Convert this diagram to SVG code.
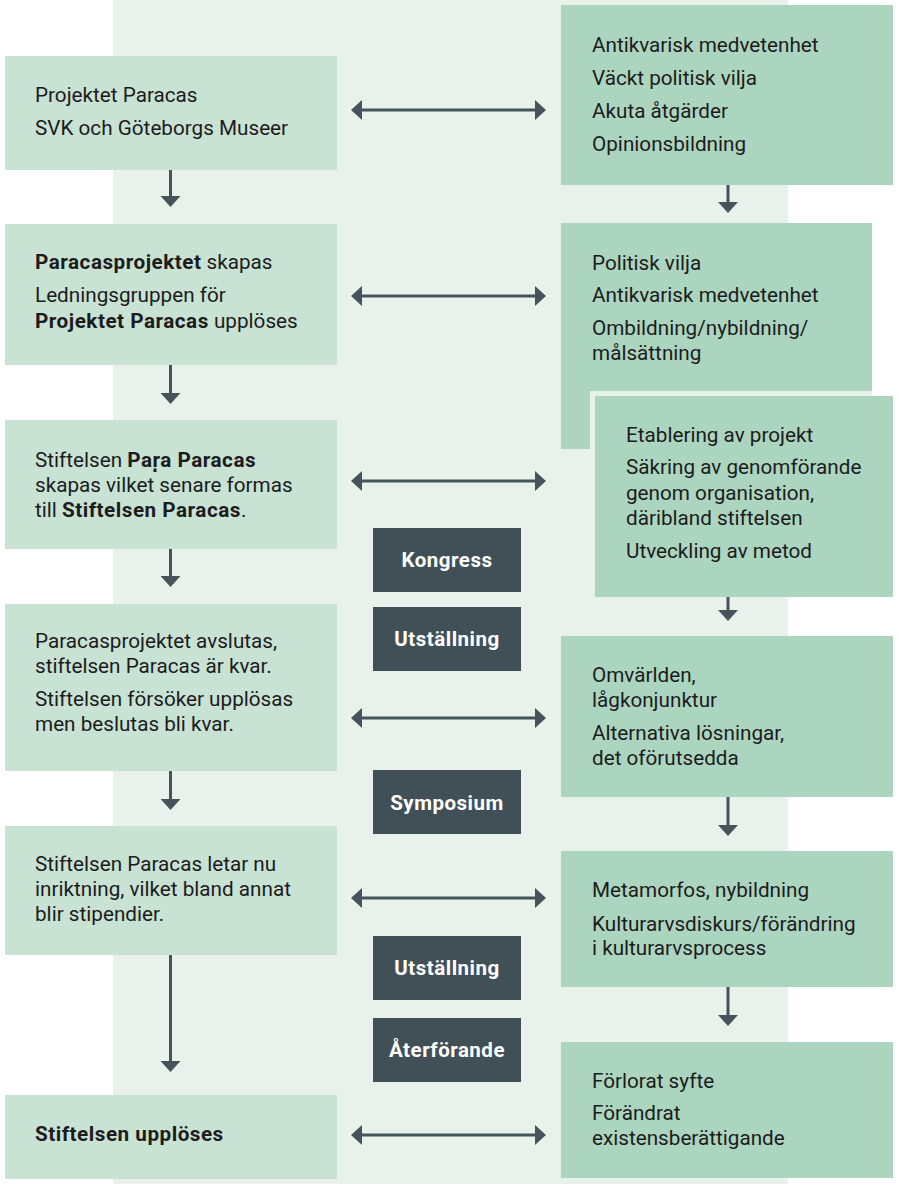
<svg xmlns="http://www.w3.org/2000/svg" width="897" height="1184" viewBox="0 0 897 1184">
<defs>
<style>
.bg{fill:#e8f2eb}
.lb{fill:#c8e3d4}
.rb{fill:#acd5c0}
.db{fill:#414f57}
.t{font-family:Roboto,"Liberation Sans",sans-serif;font-size:20.7px;fill:#1c1c1c}
.b{font-weight:bold;letter-spacing:0.5px}
.dl{font-family:Roboto,"Liberation Sans",sans-serif;font-size:20.5px;font-weight:bold;letter-spacing:0.5px;fill:#ffffff;text-anchor:middle}
.c{stroke:#46535b;stroke-width:3;fill:none}
</style>
<marker id="ah" viewBox="0 0 11 20" refX="5" refY="10" markerWidth="11" markerHeight="20" markerUnits="userSpaceOnUse" orient="auto-start-reverse">
<path d="M0,0 L11,10 L0,20 Z" fill="#46535b"/>
</marker>
</defs>
<rect width="897" height="1184" fill="#ffffff"/>
<rect class="bg" x="113" y="0" width="675" height="1184"/>

<g id="n-b1"><rect class="lb" x="5" y="56" width="332" height="114"/>
<text class="t" x="35" y="102">Projektet Paracas</text>
<text class="t" x="35" y="135">SVK och Göteborgs Museer</text></g>

<g id="n-b2"><rect class="lb" x="5" y="224" width="332" height="141"/>
<text class="t" x="35" y="269"><tspan class="b">Paracasprojektet</tspan> skapas</text>
<text class="t" x="35" y="302">Ledningsgruppen för</text>
<text class="t" x="35" y="328"><tspan class="b">Projektet Paracas</tspan> upplöses</text></g>

<g id="n-b3"><rect class="lb" x="5" y="420" width="332" height="129"/>
<text class="t" x="35" y="467">Stiftelsen <tspan class="b">Para Paracas</tspan></text>
<text class="t" x="35" y="492">skapas vilket senare formas</text>
<text class="t" x="35" y="517">till <tspan class="b">Stiftelsen Paracas</tspan>.</text>
<rect x="153.5" y="468.5" width="3" height="3.5" fill="#1c1c1c"/></g>

<g id="n-b4"><rect class="lb" x="5" y="604" width="332" height="167"/>
<text class="t" x="35" y="648">Paracasprojektet avslutas,</text>
<text class="t" x="35" y="673">stiftelsen Paracas är kvar.</text>
<text class="t" x="35" y="706">Stiftelsen försöker upplösas</text>
<text class="t" x="35" y="731">men beslutas bli kvar.</text></g>

<g id="n-b5"><rect class="lb" x="5" y="826" width="332" height="129"/>
<text class="t" x="35" y="871">Stiftelsen Paracas letar nu</text>
<text class="t" x="35" y="896">inriktning, vilket bland annat</text>
<text class="t" x="35" y="921">blir stipendier.</text></g>

<g id="n-b6"><rect class="lb" x="5" y="1095" width="332" height="84"/>
<text class="t b" x="35" y="1141">Stiftelsen upplöses</text></g>

<g id="n-r1"><rect class="rb" x="561" y="5" width="332" height="180"/>
<text class="t" x="592" y="52">Antikvarisk medvetenhet</text>
<text class="t" x="592" y="85">Väckt politisk vilja</text>
<text class="t" x="592" y="118">Akuta åtgärder</text>
<text class="t" x="592" y="151">Opinionsbildning</text></g>

<g id="n-r2"><rect class="rb" x="561" y="223" width="311" height="226"/>
<text class="t" x="592" y="270">Politisk vilja</text>
<text class="t" x="592" y="302">Antikvarisk medvetenhet</text>
<text class="t" x="592" y="335">Ombildning/nybildning/</text>
<text class="t" x="592" y="360">målsättning</text></g>

<g id="n-r3"><rect class="bg" x="590" y="391" width="282" height="60"/>
<rect class="rb" x="595" y="396" width="298" height="201"/>
<text class="t" x="626" y="442">Etablering av projekt</text>
<text class="t" x="626" y="474">Säkring av genomförande</text>
<text class="t" x="626" y="500">genom organisation,</text>
<text class="t" x="626" y="525">däribland stiftelsen</text>
<text class="t" x="626" y="558">Utveckling av metod</text></g>

<g id="n-r4"><rect class="rb" x="561" y="636" width="332" height="161"/>
<text class="t" x="592" y="682">Omvärlden,</text>
<text class="t" x="592" y="707">lågkonjunktur</text>
<text class="t" x="592" y="740">Alternativa lösningar,</text>
<text class="t" x="592" y="765">det oförutsedda</text></g>

<g id="n-r5"><rect class="rb" x="561" y="851" width="332" height="136"/>
<text class="t" x="592" y="897">Metamorfos, nybildning</text>
<text class="t" x="592" y="931">Kulturarvsdiskurs/förändring</text>
<text class="t" x="592" y="955">i kulturarvsprocess</text></g>

<g id="n-r6"><rect class="rb" x="561" y="1042" width="332" height="136"/>
<text class="t" x="592" y="1088">Förlorat syfte</text>
<text class="t" x="592" y="1120">Förändrat</text>
<text class="t" x="592" y="1145">existensberättigande</text></g>

<g id="n-kongress"><rect class="db" x="373" y="528" width="148" height="64"/><text class="dl" x="447" y="567">Kongress</text></g>
<g id="n-utst1"><rect class="db" x="373" y="607" width="148" height="64"/><text class="dl" x="447" y="646">Utställning</text></g>
<g id="n-symposium"><rect class="db" x="373" y="770" width="148" height="64"/><text class="dl" x="447" y="810">Symposium</text></g>
<g id="n-utst2"><rect class="db" x="373" y="936" width="148" height="64"/><text class="dl" x="447" y="975">Utställning</text></g>
<g id="n-aterf"><rect class="db" x="373" y="1018" width="148" height="64"/><text class="dl" x="447" y="1057">Återförande</text></g>

<g id="connectors">
<line class="c" x1="170.5" y1="170" x2="170.5" y2="201" marker-end="url(#ah)"/>
<line class="c" x1="170.5" y1="365" x2="170.5" y2="398" marker-end="url(#ah)"/>
<line class="c" x1="170.5" y1="549" x2="170.5" y2="581" marker-end="url(#ah)"/>
<line class="c" x1="170.5" y1="771" x2="170.5" y2="804" marker-end="url(#ah)"/>
<line class="c" x1="170.5" y1="955" x2="170.5" y2="1066" marker-end="url(#ah)"/>
<line class="c" x1="728" y1="185" x2="728" y2="207" marker-end="url(#ah)"/>
<line class="c" x1="728" y1="597" x2="728" y2="615" marker-end="url(#ah)"/>
<line class="c" x1="728" y1="797" x2="728" y2="830" marker-end="url(#ah)"/>
<line class="c" x1="728" y1="987" x2="728" y2="1020" marker-end="url(#ah)"/>
<line class="c" x1="357" y1="110" x2="540" y2="110" marker-start="url(#ah)" marker-end="url(#ah)"/>
<line class="c" x1="357" y1="296" x2="540" y2="296" marker-start="url(#ah)" marker-end="url(#ah)"/>
<line class="c" x1="357" y1="481" x2="540" y2="481" marker-start="url(#ah)" marker-end="url(#ah)"/>
<line class="c" x1="357" y1="718" x2="540" y2="718" marker-start="url(#ah)" marker-end="url(#ah)"/>
<line class="c" x1="357" y1="898" x2="540" y2="898" marker-start="url(#ah)" marker-end="url(#ah)"/>
<line class="c" x1="357" y1="1135" x2="540" y2="1135" marker-start="url(#ah)" marker-end="url(#ah)"/>
</g>
</svg>
